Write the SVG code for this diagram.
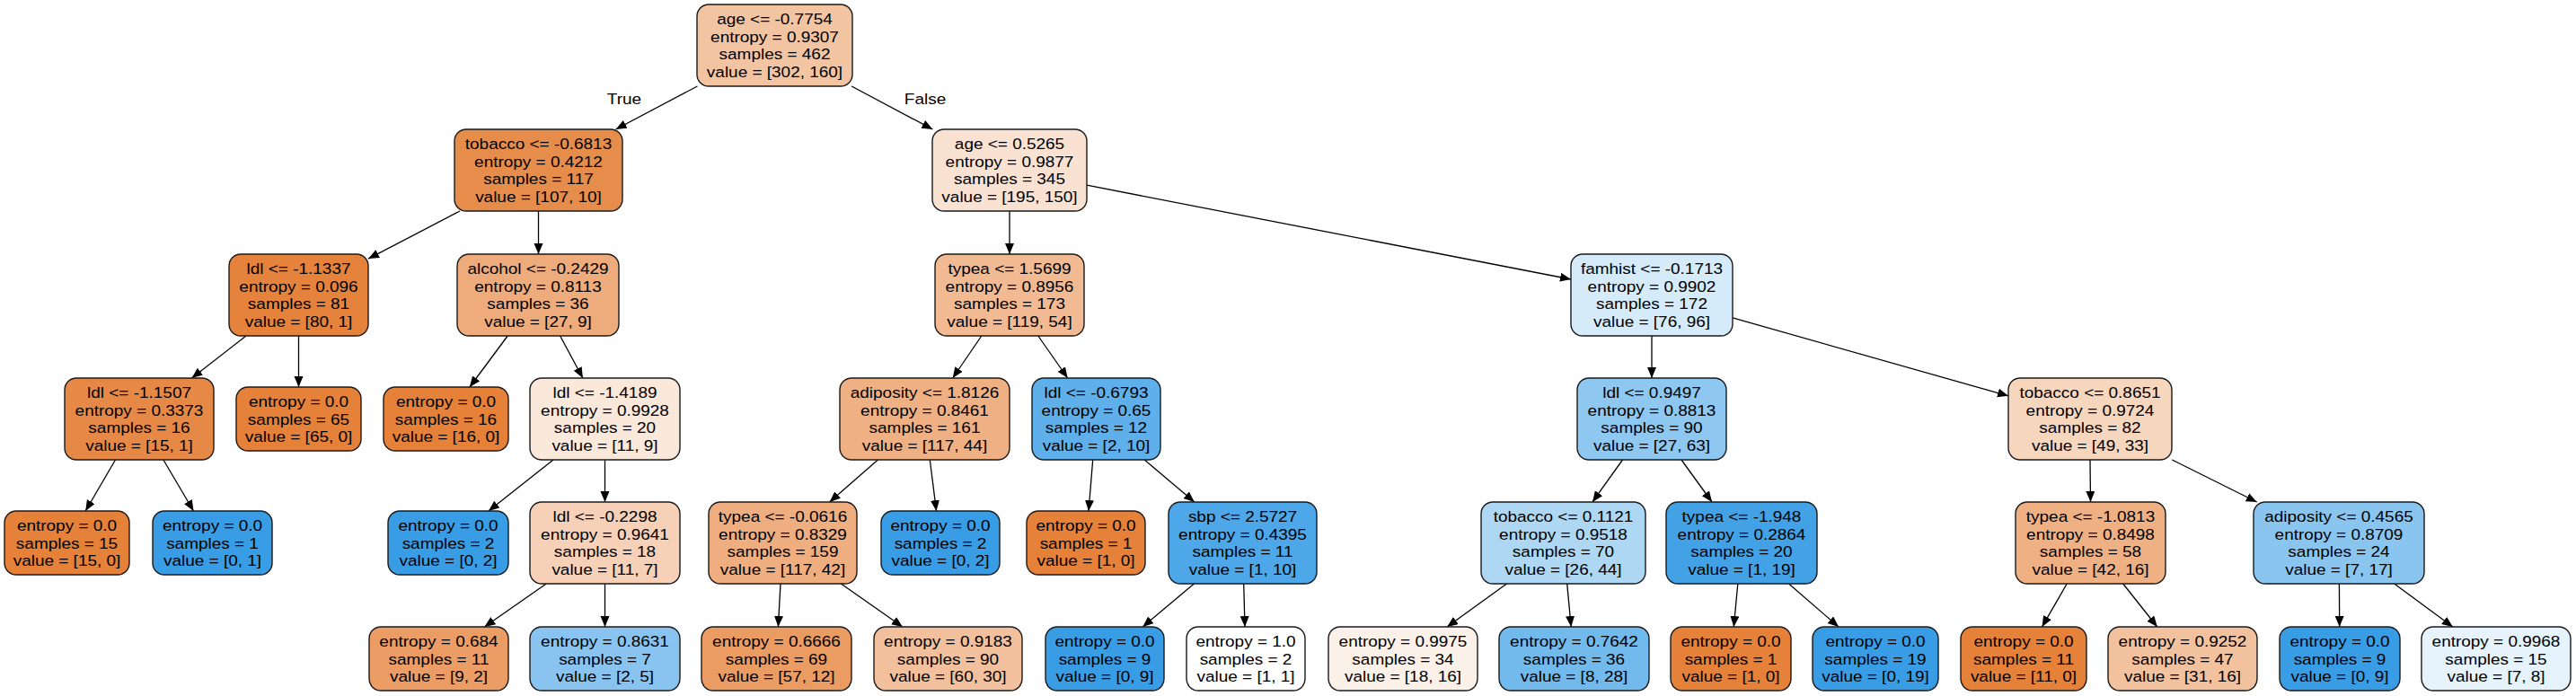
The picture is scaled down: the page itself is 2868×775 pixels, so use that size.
<svg xmlns="http://www.w3.org/2000/svg" width="2868" height="775" viewBox="0 0 2868 775">
<defs>
<style>
.n{stroke:#1a1a1a;stroke-width:1.4}
.t{font-family:"Liberation Sans",Arial,sans-serif;font-size:16.5px;text-anchor:middle;fill:#000}
.e{stroke:#000;stroke-width:1.3;fill:none;marker-end:url(#ah)}
</style>
<marker id="ah" markerUnits="userSpaceOnUse" markerWidth="13" markerHeight="11" refX="12" refY="5" orient="auto">
<path d="M0,0 L12,5 L0,10 z" fill="#000"/>
</marker>
</defs>
<rect width="2868" height="775" fill="#fff"/>
<g id="edges">
<line class="e" x1="776.4" y1="96" x2="685.6" y2="144"/>
<line class="e" x1="948.1" y1="96" x2="1038.4" y2="144"/>
<line class="e" x1="512.1" y1="235" x2="410" y2="288.1"/>
<line class="e" x1="599.5" y1="235" x2="599.5" y2="283"/>
<line class="e" x1="274" y1="374" x2="213.5" y2="421"/>
<line class="e" x1="332.5" y1="374" x2="332.5" y2="431"/>
<line class="e" x1="128.5" y1="512" x2="95.2" y2="569"/>
<line class="e" x1="181.9" y1="512" x2="215.5" y2="569"/>
<line class="e" x1="565.2" y1="374" x2="522.9" y2="431"/>
<line class="e" x1="623.6" y1="374" x2="648.9" y2="421"/>
<line class="e" x1="616" y1="512" x2="543.9" y2="569"/>
<line class="e" x1="673.5" y1="512" x2="673.5" y2="559"/>
<line class="e" x1="608.2" y1="650" x2="539.4" y2="698"/>
<line class="e" x1="673.5" y1="650" x2="673.5" y2="698"/>
<line class="e" x1="1124" y1="235" x2="1124" y2="283"/>
<line class="e" x1="1210" y1="206.2" x2="1749" y2="311"/>
<line class="e" x1="1092.8" y1="374" x2="1060.7" y2="421"/>
<line class="e" x1="1155.8" y1="374" x2="1188.7" y2="421"/>
<line class="e" x1="977.4" y1="512" x2="923.6" y2="559"/>
<line class="e" x1="1035.3" y1="512" x2="1042.5" y2="569"/>
<line class="e" x1="869" y1="650" x2="866.4" y2="698"/>
<line class="e" x1="936.4" y1="650" x2="1004.9" y2="698"/>
<line class="e" x1="1216.7" y1="512" x2="1212" y2="569"/>
<line class="e" x1="1274.2" y1="512" x2="1329.8" y2="559"/>
<line class="e" x1="1329.4" y1="650" x2="1272.2" y2="698"/>
<line class="e" x1="1384.7" y1="650" x2="1386" y2="698"/>
<line class="e" x1="1839" y1="374" x2="1839" y2="421"/>
<line class="e" x1="1929" y1="353.9" x2="2236" y2="440.8"/>
<line class="e" x1="1806.5" y1="512" x2="1773" y2="559"/>
<line class="e" x1="1872" y1="512" x2="1906" y2="559"/>
<line class="e" x1="1677.5" y1="650" x2="1611.1" y2="698"/>
<line class="e" x1="1744.7" y1="650" x2="1749.2" y2="698"/>
<line class="e" x1="1934.8" y1="650" x2="1930.3" y2="698"/>
<line class="e" x1="1991.6" y1="650" x2="2047" y2="698"/>
<line class="e" x1="2327" y1="512" x2="2327.5" y2="559"/>
<line class="e" x1="2418.3" y1="512" x2="2512.7" y2="559"/>
<line class="e" x1="2301.2" y1="650" x2="2273.5" y2="698"/>
<line class="e" x1="2363.7" y1="650" x2="2401.8" y2="698"/>
<line class="e" x1="2604.4" y1="650" x2="2604.7" y2="698"/>
<line class="e" x1="2665.7" y1="650" x2="2730.8" y2="698"/>
<text class="t" transform="translate(695,116) scale(1.15,1)">True</text>
<text class="t" transform="translate(1030,116) scale(1.15,1)">False</text>
</g>
<g id="node0"><rect class="n" x="776" y="5" width="173" height="91" rx="13" fill="#f3c4a2"/><text class="t" transform="translate(862.5,50.5) scale(1.15,1)"><tspan x="0" y="-24">age &lt;= -0.7754</tspan><tspan x="0" y="-4">entropy = 0.9307</tspan><tspan x="0" y="16">samples = 462</tspan><tspan x="0" y="36">value = [302, 160]</tspan></text></g>
<g id="node1"><rect class="n" x="506" y="144" width="187" height="91" rx="13" fill="#e78d4b"/><text class="t" transform="translate(599.5,189.5) scale(1.15,1)"><tspan x="0" y="-24">tobacco &lt;= -0.6813</tspan><tspan x="0" y="-4">entropy = 0.4212</tspan><tspan x="0" y="16">samples = 117</tspan><tspan x="0" y="36">value = [107, 10]</tspan></text></g>
<g id="node2"><rect class="n" x="255" y="283" width="155" height="91" rx="13" fill="#e5833c"/><text class="t" transform="translate(332.5,328.5) scale(1.15,1)"><tspan x="0" y="-24">ldl &lt;= -1.1337</tspan><tspan x="0" y="-4">entropy = 0.096</tspan><tspan x="0" y="16">samples = 81</tspan><tspan x="0" y="36">value = [80, 1]</tspan></text></g>
<g id="node3"><rect class="n" x="72" y="421" width="166" height="91" rx="13" fill="#e78946"/><text class="t" transform="translate(155,466.5) scale(1.15,1)"><tspan x="0" y="-24">ldl &lt;= -1.1507</tspan><tspan x="0" y="-4">entropy = 0.3373</tspan><tspan x="0" y="16">samples = 16</tspan><tspan x="0" y="36">value = [15, 1]</tspan></text></g>
<g id="node4"><rect class="n" x="5" y="569" width="139" height="71" rx="13" fill="#e58139"/><text class="t" transform="translate(74.5,604.5) scale(1.15,1)"><tspan x="0" y="-14">entropy = 0.0</tspan><tspan x="0" y="6">samples = 15</tspan><tspan x="0" y="26">value = [15, 0]</tspan></text></g>
<g id="node5"><rect class="n" x="170" y="569" width="133" height="71" rx="13" fill="#399de5"/><text class="t" transform="translate(236.5,604.5) scale(1.15,1)"><tspan x="0" y="-14">entropy = 0.0</tspan><tspan x="0" y="6">samples = 1</tspan><tspan x="0" y="26">value = [0, 1]</tspan></text></g>
<g id="node6"><rect class="n" x="263" y="431" width="139" height="71" rx="13" fill="#e58139"/><text class="t" transform="translate(332.5,466.5) scale(1.15,1)"><tspan x="0" y="-14">entropy = 0.0</tspan><tspan x="0" y="6">samples = 65</tspan><tspan x="0" y="26">value = [65, 0]</tspan></text></g>
<g id="node7"><rect class="n" x="509" y="283" width="180" height="91" rx="13" fill="#eeab7b"/><text class="t" transform="translate(599,328.5) scale(1.15,1)"><tspan x="0" y="-24">alcohol &lt;= -0.2429</tspan><tspan x="0" y="-4">entropy = 0.8113</tspan><tspan x="0" y="16">samples = 36</tspan><tspan x="0" y="36">value = [27, 9]</tspan></text></g>
<g id="node8"><rect class="n" x="427" y="431" width="139" height="71" rx="13" fill="#e58139"/><text class="t" transform="translate(496.5,466.5) scale(1.15,1)"><tspan x="0" y="-14">entropy = 0.0</tspan><tspan x="0" y="6">samples = 16</tspan><tspan x="0" y="26">value = [16, 0]</tspan></text></g>
<g id="node9"><rect class="n" x="590" y="421" width="167" height="91" rx="13" fill="#fae8db"/><text class="t" transform="translate(673.5,466.5) scale(1.15,1)"><tspan x="0" y="-24">ldl &lt;= -1.4189</tspan><tspan x="0" y="-4">entropy = 0.9928</tspan><tspan x="0" y="16">samples = 20</tspan><tspan x="0" y="36">value = [11, 9]</tspan></text></g>
<g id="node10"><rect class="n" x="432" y="569" width="134" height="71" rx="13" fill="#399de5"/><text class="t" transform="translate(499,604.5) scale(1.15,1)"><tspan x="0" y="-14">entropy = 0.0</tspan><tspan x="0" y="6">samples = 2</tspan><tspan x="0" y="26">value = [0, 2]</tspan></text></g>
<g id="node11"><rect class="n" x="590" y="559" width="167" height="91" rx="13" fill="#f6d1b7"/><text class="t" transform="translate(673.5,604.5) scale(1.15,1)"><tspan x="0" y="-24">ldl &lt;= -0.2298</tspan><tspan x="0" y="-4">entropy = 0.9641</tspan><tspan x="0" y="16">samples = 18</tspan><tspan x="0" y="36">value = [11, 7]</tspan></text></g>
<g id="node12"><rect class="n" x="411" y="698" width="155" height="71" rx="13" fill="#eb9d65"/><text class="t" transform="translate(488.5,733.5) scale(1.15,1)"><tspan x="0" y="-14">entropy = 0.684</tspan><tspan x="0" y="6">samples = 11</tspan><tspan x="0" y="26">value = [9, 2]</tspan></text></g>
<g id="node13"><rect class="n" x="590" y="698" width="167" height="71" rx="13" fill="#88c4ef"/><text class="t" transform="translate(673.5,733.5) scale(1.15,1)"><tspan x="0" y="-14">entropy = 0.8631</tspan><tspan x="0" y="6">samples = 7</tspan><tspan x="0" y="26">value = [2, 5]</tspan></text></g>
<g id="node14"><rect class="n" x="1038" y="144" width="172" height="91" rx="13" fill="#f9e2d1"/><text class="t" transform="translate(1124,189.5) scale(1.15,1)"><tspan x="0" y="-24">age &lt;= 0.5265</tspan><tspan x="0" y="-4">entropy = 0.9877</tspan><tspan x="0" y="16">samples = 345</tspan><tspan x="0" y="36">value = [195, 150]</tspan></text></g>
<g id="node15"><rect class="n" x="1041" y="283" width="166" height="91" rx="13" fill="#f1ba93"/><text class="t" transform="translate(1124,328.5) scale(1.15,1)"><tspan x="0" y="-24">typea &lt;= 1.5699</tspan><tspan x="0" y="-4">entropy = 0.8956</tspan><tspan x="0" y="16">samples = 173</tspan><tspan x="0" y="36">value = [119, 54]</tspan></text></g>
<g id="node16"><rect class="n" x="935" y="421" width="189" height="91" rx="13" fill="#efb083"/><text class="t" transform="translate(1029.5,466.5) scale(1.15,1)"><tspan x="0" y="-24">adiposity &lt;= 1.8126</tspan><tspan x="0" y="-4">entropy = 0.8461</tspan><tspan x="0" y="16">samples = 161</tspan><tspan x="0" y="36">value = [117, 44]</tspan></text></g>
<g id="node17"><rect class="n" x="789" y="559" width="165" height="91" rx="13" fill="#eeae80"/><text class="t" transform="translate(871.5,604.5) scale(1.15,1)"><tspan x="0" y="-24">typea &lt;= -0.0616</tspan><tspan x="0" y="-4">entropy = 0.8329</tspan><tspan x="0" y="16">samples = 159</tspan><tspan x="0" y="36">value = [117, 42]</tspan></text></g>
<g id="node18"><rect class="n" x="781" y="698" width="167" height="71" rx="13" fill="#eb9c63"/><text class="t" transform="translate(864.5,733.5) scale(1.15,1)"><tspan x="0" y="-14">entropy = 0.6666</tspan><tspan x="0" y="6">samples = 69</tspan><tspan x="0" y="26">value = [57, 12]</tspan></text></g>
<g id="node19"><rect class="n" x="973" y="698" width="165" height="71" rx="13" fill="#f2c09c"/><text class="t" transform="translate(1055.5,733.5) scale(1.15,1)"><tspan x="0" y="-14">entropy = 0.9183</tspan><tspan x="0" y="6">samples = 90</tspan><tspan x="0" y="26">value = [60, 30]</tspan></text></g>
<g id="node20"><rect class="n" x="981" y="569" width="132" height="71" rx="13" fill="#399de5"/><text class="t" transform="translate(1047,604.5) scale(1.15,1)"><tspan x="0" y="-14">entropy = 0.0</tspan><tspan x="0" y="6">samples = 2</tspan><tspan x="0" y="26">value = [0, 2]</tspan></text></g>
<g id="node21"><rect class="n" x="1149" y="421" width="143" height="91" rx="13" fill="#5eafea"/><text class="t" transform="translate(1220.5,466.5) scale(1.15,1)"><tspan x="0" y="-24">ldl &lt;= -0.6793</tspan><tspan x="0" y="-4">entropy = 0.65</tspan><tspan x="0" y="16">samples = 12</tspan><tspan x="0" y="36">value = [2, 10]</tspan></text></g>
<g id="node22"><rect class="n" x="1143" y="569" width="132" height="71" rx="13" fill="#e58139"/><text class="t" transform="translate(1209,604.5) scale(1.15,1)"><tspan x="0" y="-14">entropy = 0.0</tspan><tspan x="0" y="6">samples = 1</tspan><tspan x="0" y="26">value = [1, 0]</tspan></text></g>
<g id="node23"><rect class="n" x="1301" y="559" width="165" height="91" rx="13" fill="#4da7e8"/><text class="t" transform="translate(1383.5,604.5) scale(1.15,1)"><tspan x="0" y="-24">sbp &lt;= 2.5727</tspan><tspan x="0" y="-4">entropy = 0.4395</tspan><tspan x="0" y="16">samples = 11</tspan><tspan x="0" y="36">value = [1, 10]</tspan></text></g>
<g id="node24"><rect class="n" x="1164" y="698" width="132" height="71" rx="13" fill="#399de5"/><text class="t" transform="translate(1230,733.5) scale(1.15,1)"><tspan x="0" y="-14">entropy = 0.0</tspan><tspan x="0" y="6">samples = 9</tspan><tspan x="0" y="26">value = [0, 9]</tspan></text></g>
<g id="node25"><rect class="n" x="1321" y="698" width="132" height="71" rx="13" fill="#ffffff"/><text class="t" transform="translate(1387,733.5) scale(1.15,1)"><tspan x="0" y="-14">entropy = 1.0</tspan><tspan x="0" y="6">samples = 2</tspan><tspan x="0" y="26">value = [1, 1]</tspan></text></g>
<g id="node26"><rect class="n" x="1749" y="283" width="180" height="91" rx="13" fill="#d6ebfa"/><text class="t" transform="translate(1839,328.5) scale(1.15,1)"><tspan x="0" y="-24">famhist &lt;= -0.1713</tspan><tspan x="0" y="-4">entropy = 0.9902</tspan><tspan x="0" y="16">samples = 172</tspan><tspan x="0" y="36">value = [76, 96]</tspan></text></g>
<g id="node27"><rect class="n" x="1756" y="421" width="166" height="91" rx="13" fill="#8ec7f0"/><text class="t" transform="translate(1839,466.5) scale(1.15,1)"><tspan x="0" y="-24">ldl &lt;= 0.9497</tspan><tspan x="0" y="-4">entropy = 0.8813</tspan><tspan x="0" y="16">samples = 90</tspan><tspan x="0" y="36">value = [27, 63]</tspan></text></g>
<g id="node28"><rect class="n" x="1649" y="559" width="183" height="91" rx="13" fill="#aed7f4"/><text class="t" transform="translate(1740.5,604.5) scale(1.15,1)"><tspan x="0" y="-24">tobacco &lt;= 0.1121</tspan><tspan x="0" y="-4">entropy = 0.9518</tspan><tspan x="0" y="16">samples = 70</tspan><tspan x="0" y="36">value = [26, 44]</tspan></text></g>
<g id="node29"><rect class="n" x="1479" y="698" width="166" height="71" rx="13" fill="#fcf1e9"/><text class="t" transform="translate(1562,733.5) scale(1.15,1)"><tspan x="0" y="-14">entropy = 0.9975</tspan><tspan x="0" y="6">samples = 34</tspan><tspan x="0" y="26">value = [18, 16]</tspan></text></g>
<g id="node30"><rect class="n" x="1669" y="698" width="167" height="71" rx="13" fill="#72b9ec"/><text class="t" transform="translate(1752.5,733.5) scale(1.15,1)"><tspan x="0" y="-14">entropy = 0.7642</tspan><tspan x="0" y="6">samples = 36</tspan><tspan x="0" y="26">value = [8, 28]</tspan></text></g>
<g id="node31"><rect class="n" x="1855" y="559" width="168" height="91" rx="13" fill="#43a2e6"/><text class="t" transform="translate(1939,604.5) scale(1.15,1)"><tspan x="0" y="-24">typea &lt;= -1.948</tspan><tspan x="0" y="-4">entropy = 0.2864</tspan><tspan x="0" y="16">samples = 20</tspan><tspan x="0" y="36">value = [1, 19]</tspan></text></g>
<g id="node32"><rect class="n" x="1860" y="698" width="134" height="71" rx="13" fill="#e58139"/><text class="t" transform="translate(1927,733.5) scale(1.15,1)"><tspan x="0" y="-14">entropy = 0.0</tspan><tspan x="0" y="6">samples = 1</tspan><tspan x="0" y="26">value = [1, 0]</tspan></text></g>
<g id="node33"><rect class="n" x="2018" y="698" width="140" height="71" rx="13" fill="#399de5"/><text class="t" transform="translate(2088,733.5) scale(1.15,1)"><tspan x="0" y="-14">entropy = 0.0</tspan><tspan x="0" y="6">samples = 19</tspan><tspan x="0" y="26">value = [0, 19]</tspan></text></g>
<g id="node34"><rect class="n" x="2236" y="421" width="182" height="91" rx="13" fill="#f7d6be"/><text class="t" transform="translate(2327,466.5) scale(1.15,1)"><tspan x="0" y="-24">tobacco &lt;= 0.8651</tspan><tspan x="0" y="-4">entropy = 0.9724</tspan><tspan x="0" y="16">samples = 82</tspan><tspan x="0" y="36">value = [49, 33]</tspan></text></g>
<g id="node35"><rect class="n" x="2244" y="559" width="167" height="91" rx="13" fill="#efb184"/><text class="t" transform="translate(2327.5,604.5) scale(1.15,1)"><tspan x="0" y="-24">typea &lt;= -1.0813</tspan><tspan x="0" y="-4">entropy = 0.8498</tspan><tspan x="0" y="16">samples = 58</tspan><tspan x="0" y="36">value = [42, 16]</tspan></text></g>
<g id="node36"><rect class="n" x="2183" y="698" width="140" height="71" rx="13" fill="#e58139"/><text class="t" transform="translate(2253,733.5) scale(1.15,1)"><tspan x="0" y="-14">entropy = 0.0</tspan><tspan x="0" y="6">samples = 11</tspan><tspan x="0" y="26">value = [11, 0]</tspan></text></g>
<g id="node37"><rect class="n" x="2347" y="698" width="166" height="71" rx="13" fill="#f2c29f"/><text class="t" transform="translate(2430,733.5) scale(1.15,1)"><tspan x="0" y="-14">entropy = 0.9252</tspan><tspan x="0" y="6">samples = 47</tspan><tspan x="0" y="26">value = [31, 16]</tspan></text></g>
<g id="node38"><rect class="n" x="2509" y="559" width="190" height="91" rx="13" fill="#8ac5f0"/><text class="t" transform="translate(2604,604.5) scale(1.15,1)"><tspan x="0" y="-24">adiposity &lt;= 0.4565</tspan><tspan x="0" y="-4">entropy = 0.8709</tspan><tspan x="0" y="16">samples = 24</tspan><tspan x="0" y="36">value = [7, 17]</tspan></text></g>
<g id="node39"><rect class="n" x="2538" y="698" width="134" height="71" rx="13" fill="#399de5"/><text class="t" transform="translate(2605,733.5) scale(1.15,1)"><tspan x="0" y="-14">entropy = 0.0</tspan><tspan x="0" y="6">samples = 9</tspan><tspan x="0" y="26">value = [0, 9]</tspan></text></g>
<g id="node40"><rect class="n" x="2696" y="698" width="166" height="71" rx="13" fill="#e6f3fc"/><text class="t" transform="translate(2779,733.5) scale(1.15,1)"><tspan x="0" y="-14">entropy = 0.9968</tspan><tspan x="0" y="6">samples = 15</tspan><tspan x="0" y="26">value = [7, 8]</tspan></text></g>
</svg>
